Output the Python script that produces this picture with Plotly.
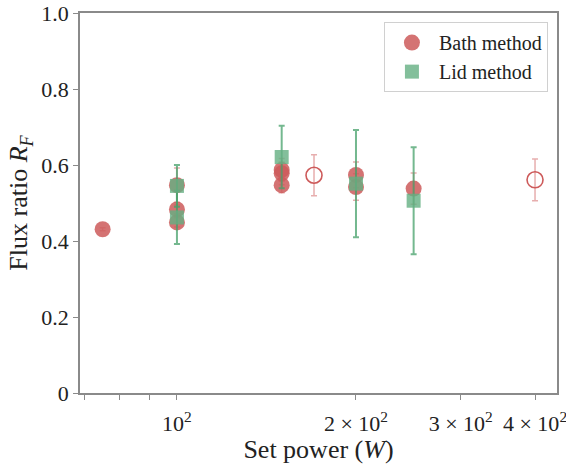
import plotly.graph_objects as go

# Bath method (filled)
bath_x = [75, 100, 100, 100, 150, 150, 150, 200, 200, 250]
bath_y = [0.431, 0.547, 0.483, 0.449, 0.587, 0.578, 0.547, 0.574, 0.542, 0.538]
bath_err = [0.004, 0.045, 0.012, 0.012, 0.03, 0.03, 0.02, 0.034, 0.035, 0.041]

# Bath method (open markers, not in legend)
open_x = [170, 400]
open_y = [0.573, 0.561]
open_err = [0.054, 0.055]

# Lid method
lid_x = [100, 100, 150, 200, 250]
lid_y = [0.545, 0.462, 0.621, 0.551, 0.506]
lid_err = [0.055, 0.07, 0.082, 0.141, 0.141]

x_tickvals = [70, 80, 90, 100, 200, 300, 400]
x_ticktext = ["", "", "", "10<sup>2</sup>", "2 × 10<sup>2</sup>", "3 × 10<sup>2</sup>", "4 × 10<sup>2</sup>"]
y_tickvals = [0, 0.2, 0.4, 0.6, 0.8, 1.0]
y_ticktext = ["0", "0.2", "0.4", "0.6", "0.8", "1.0"]

RED = "rgb(205,90,90)"
RED_A = "rgba(205,90,90,0.85)"
RED_ERR = "rgba(215,120,120,0.6)"
GREEN_A = "rgba(100,175,130,0.8)"
GREEN_ERR = "rgba(70,160,105,0.75)"

FONT = "Liberation Serif"

fig = go.Figure()

fig.add_trace(go.Scatter(
    x=bath_x, y=bath_y, mode="markers", name="Bath method",
    marker=dict(symbol="circle", size=16, color=RED_A, line=dict(width=0)),
    error_y=dict(type="data", array=bath_err, visible=True, color=RED_ERR, thickness=1.5, width=3),
))

fig.add_trace(go.Scatter(
    x=open_x, y=open_y, mode="markers", name="open", showlegend=False,
    marker=dict(symbol="circle-open", size=16, color=RED, line=dict(width=1.6, color=RED)),
    error_y=dict(type="data", array=open_err, visible=True, color=RED_ERR, thickness=1.5, width=3),
))

fig.add_trace(go.Scatter(
    x=lid_x, y=lid_y, mode="markers", name="Lid method",
    marker=dict(symbol="square", size=14, color=GREEN_A, line=dict(width=0)),
    error_y=dict(type="data", array=lid_err, visible=True, color=GREEN_ERR, thickness=2, width=3),
))

axis_common = dict(
    showline=True, linecolor="#8a8a8a", linewidth=1.5, mirror=True,
    showgrid=False, zeroline=False, ticks="outside", ticklen=5,
    tickcolor="#8a8a8a", tickwidth=1.2, automargin=False,
    ticklabeloverflow="allow",
    tickfont=dict(family=FONT, size=22, color="#222"),
)

fig.update_layout(
    width=566, height=464,
    margin=dict(l=80, r=9, t=13, b=71),
    plot_bgcolor="white", paper_bgcolor="white",
    font=dict(family=FONT, color="#222"),
    xaxis=dict(
        type="log", range=[1.837, 2.639],
        tickmode="array", tickvals=x_tickvals, ticktext=x_ticktext,
        ticklabelstandoff=5,
        title=dict(text="Set power (<i>W</i>)", font=dict(family=FONT, size=26, color="#222"), standoff=0),
        **axis_common,
    ),
    yaxis=dict(
        range=[0, 1],
        tickmode="array", tickvals=y_tickvals, ticktext=y_ticktext,
        title=dict(text="Flux ratio <i>R</i><sub><i>F</i></sub>", font=dict(family=FONT, size=26, color="#222"), standoff=6),
        **axis_common,
    ),
    legend=dict(
        x=0.981, y=0.976, xanchor="right", yanchor="top",
        bgcolor="white", bordercolor="#d0d0d0", borderwidth=1,
        font=dict(family=FONT, size=20, color="#222"),
        itemsizing="trace", tracegroupgap=0, itemwidth=44,
    ),
    showlegend=True,
)

fig.write_html("out.html")
